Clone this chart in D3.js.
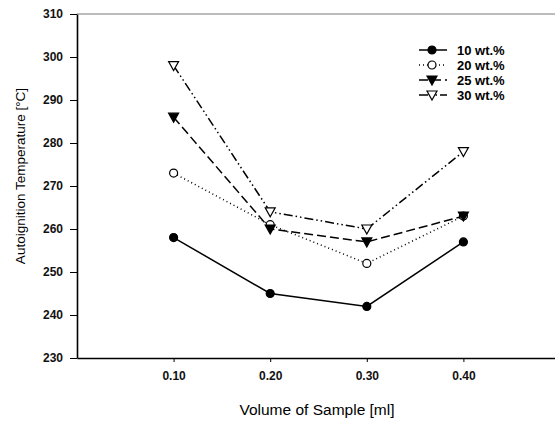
<!DOCTYPE html>
<html>
<head>
<meta charset="utf-8">
<script src="https://cdn.jsdelivr.net/npm/d3@7"></script>
<style>
  body { margin: 0; background: #fff; }
  svg { display: block; font-family: 'Liberation Sans', Arial, sans-serif; }
  .axis path, .axis line { stroke: #000; }
  .axis text { font-size: 12px; font-weight: bold; fill: #111; }
</style>
</head>
<body>
<div id="chart"></div>
<script>
// data
const volumes = [0.1, 0.2, 0.3, 0.4]
const xTicks = [0.1, 0.2, 0.3, 0.4]
const yTicks = [230, 240, 250, 260, 270, 280, 290, 300, 310]
const seriesNames = ['10 wt.%', '20 wt.%', '25 wt.%', '30 wt.%']
const temp10 = [258, 245, 242, 257]
const temp20 = [273, 261, 252, 263]
const temp25 = [286, 260, 257, 263]
const temp30 = [298, 264, 260, 278]

const width = 555
const height = 421
const margin = { top: 14, left: 77, right: -5, bottom: 63 }

const svg = d3.select('#chart')
  .append('svg')
  .attr('width', width)
  .attr('height', height)

const xPositionScale = d3.scaleLinear()
  .domain([0, 0.5])
  .range([margin.left, width - margin.right])

const yPositionScale = d3.scaleLinear()
  .domain([230, 310])
  .range([height - margin.bottom, margin.top])

const styles = [
  { dash: null, marker: 'circle', fill: '#000' },
  { dash: '1,3', marker: 'circle', fill: '#fff' },
  { dash: '9,4', marker: 'triangle', fill: '#000' },
  { dash: '9,3,1.5,3,1.5,3', marker: 'triangle', fill: '#fff' }
]

const series = [temp10, temp20, temp25, temp30].map((vals, i) => ({
  name: seriesNames[i],
  style: styles[i],
  values: vals.map((v, j) => ({ x: volumes[j], y: v }))
}))

const line = d3.line()
  .x(d => xPositionScale(d.x))
  .y(d => yPositionScale(d.y))

// top frame line
svg.append('line')
  .attr('x1', xPositionScale(0))
  .attr('x2', xPositionScale(0.5))
  .attr('y1', yPositionScale(310))
  .attr('y2', yPositionScale(310))
  .attr('stroke', '#555')
  .attr('stroke-width', 0.8)

const xAxis = d3.axisBottom(xPositionScale)
  .tickValues(xTicks)
  .tickFormat(d3.format('.2f'))
  .tickSize(4)
  .tickSizeOuter(0)
svg.append('g')
  .attr('class', 'axis x-axis')
  .attr('transform', 'translate(0,' + yPositionScale(230) + ')')
  .call(xAxis)
  .call(g => g.selectAll('text').attr('dy', '1.25em'))
  .call(g => g.select('.domain').attr('stroke-width', 1.6))

const yAxis = d3.axisLeft(yPositionScale)
  .tickValues(yTicks)
  .tickSize(7)
  .tickSizeOuter(0)
svg.append('g')
  .attr('class', 'axis y-axis')
  .attr('transform', 'translate(' + xPositionScale(0) + ',0)')
  .call(yAxis)
  .call(g => g.select('.domain').attr('stroke-width', 1.6))
  .call(g => g.selectAll('text').attr('x', -14))

function drawMarker(g, style, x, y) {
  if (style.marker === 'circle') {
    g.append('circle')
      .attr('cx', x)
      .attr('cy', y)
      .attr('r', 4)
      .attr('fill', style.fill)
      .attr('stroke', '#000')
      .attr('stroke-width', 1.2)
  } else {
    g.append('path')
      .attr('d', `M${x - 5},${y - 4} L${x + 5},${y - 4} L${x},${y + 5} Z`)
      .attr('fill', style.fill)
      .attr('stroke', '#000')
      .attr('stroke-width', 1.2)
  }
}

series.forEach(s => {
  const g = svg.append('g')
  g.append('path')
    .attr('d', line(s.values))
    .attr('fill', 'none')
    .attr('stroke', '#000')
    .attr('stroke-width', 1.5)
    .attr('stroke-dasharray', s.style.dash)
  s.values.forEach(d => drawMarker(g, s.style, xPositionScale(d.x), yPositionScale(d.y)))
})

// legend
const legend = svg.append('g').attr('transform', 'translate(419,50)')
series.forEach((s, i) => {
  const row = legend.append('g').attr('transform', 'translate(0,' + i * 15 + ')')
  row.append('line')
    .attr('x1', 0)
    .attr('x2', 28)
    .attr('stroke', '#000')
    .attr('stroke-width', 1.5)
    .attr('stroke-dasharray', s.style.dash)
  drawMarker(row, s.style, 13, 0)
  row.append('text')
    .text(s.name)
    .attr('x', 38)
    .attr('y', 4.5)
    .attr('font-size', 13)
    .attr('font-weight', 'bold')
})

svg.append('text')
  .text('Volume of Sample [ml]')
  .attr('x', 317)
  .attr('y', 415)
  .attr('text-anchor', 'middle')
  .attr('font-size', 15.5)

svg.append('text')
  .text('Autoignition Temperature [\u00B0C]')
  .attr('transform', 'translate(25,176) rotate(-90)')
  .attr('text-anchor', 'middle')
  .attr('font-size', 13.5)
</script>
</body>
</html>
